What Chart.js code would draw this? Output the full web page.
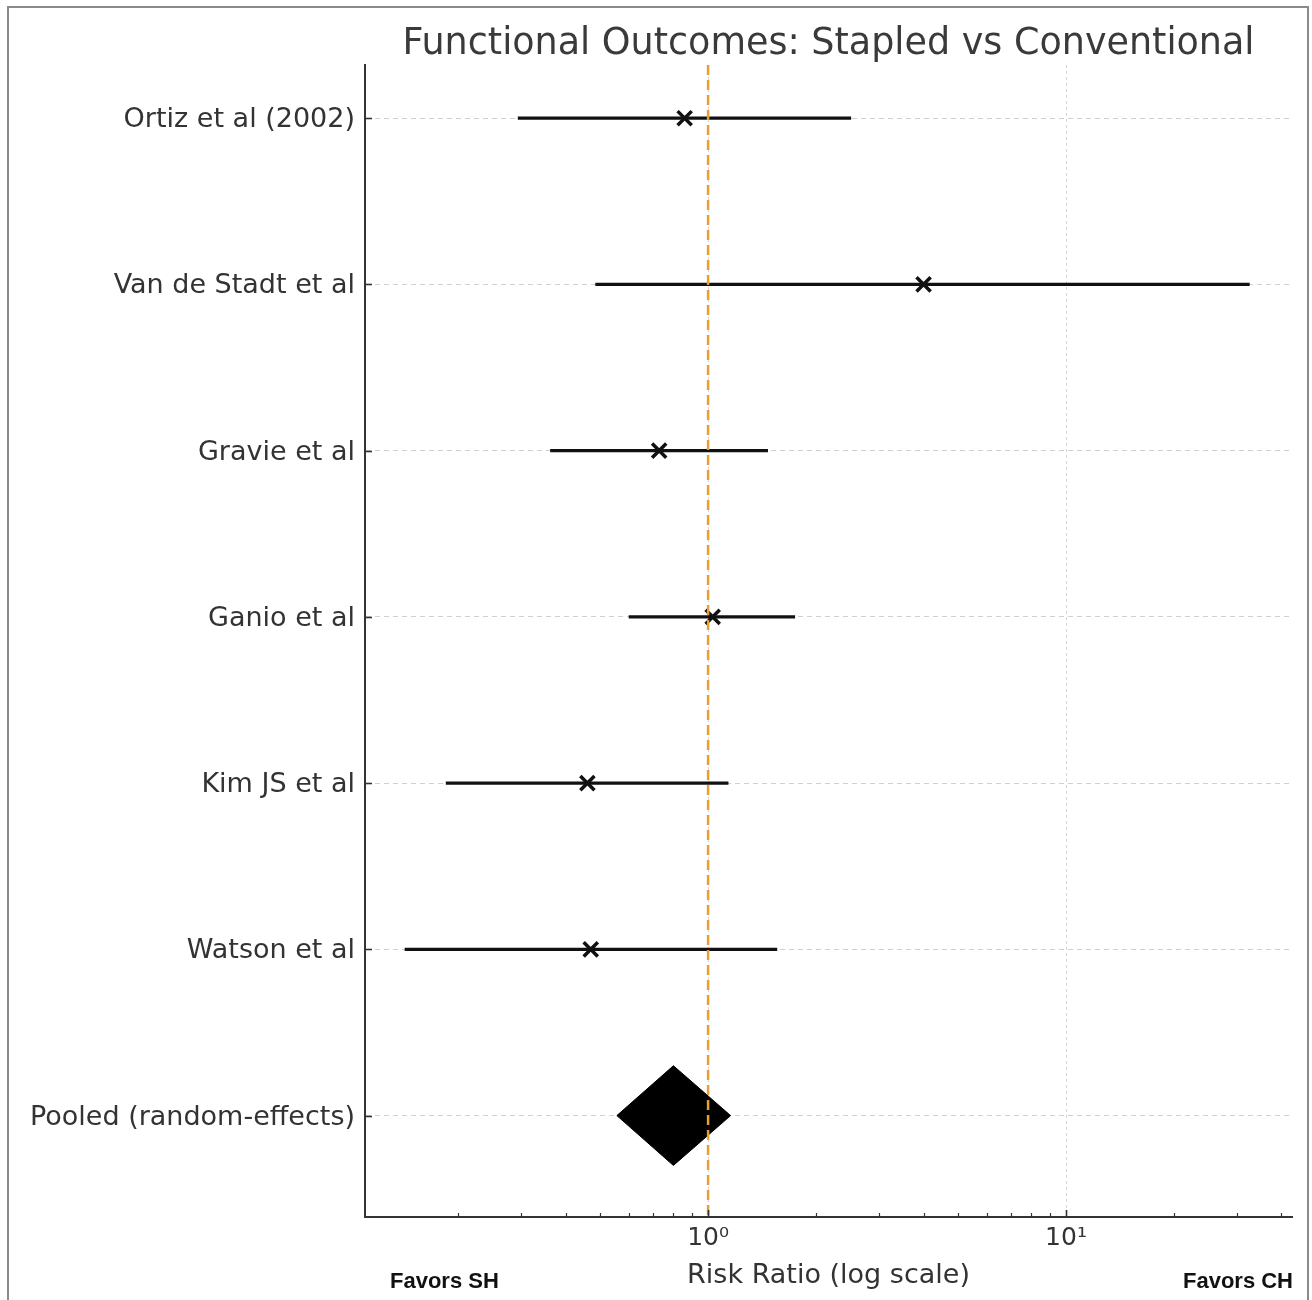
<!DOCTYPE html>
<html>
<head>
<meta charset="utf-8">
<script src="https://cdn.jsdelivr.net/npm/chart.js@4.4.1/dist/chart.umd.min.js"></script>
<style>
    html, body { margin: 0; padding: 0; background: #fff; }
    #wrap { width: 1312px; height: 1300px; position: relative; }
</style>
</head>
<body>
<div id="wrap"><canvas id="forest" width="1312" height="1300"></canvas></div>
<script>
// Study rows (top to bottom), risk ratios and 95% CI
const studies = ['Ortiz et al (2002)', 'Van de Stadt et al', 'Gravie et al', 'Ganio et al', 'Kim JS et al', 'Watson et al', 'Pooled (random-effects)'];
const estimates = [0.86, 4.0, 0.73, 1.03, 0.46, 0.47];
const lowerCI = [0.294, 0.484, 0.362, 0.60, 0.185, 0.142];
const upperCI = [2.51, 32.6, 1.47, 1.75, 1.14, 1.56];
const pooledEstimate = 0.80;
const pooledLower = 0.556;
const pooledUpper = 1.156;

// x axis ticks
const majorTicks = [1, 10];
const minorTicks = [0.2, 0.3, 0.4, 0.5, 0.6, 0.7, 0.8, 0.9, 2, 3, 4, 5, 6, 7, 8, 9, 20, 30, 40];
const tickLabels = { 1: '10\u2070', 10: '10\u00b9' };

const X_MIN = 0.11, X_MAX = 42.8;
const Y_MIN = -0.32, Y_MAX = 6.61;
const DIAMOND_HALF = 0.3;
const pooledRow = studies.length - 1;

const textColor = '#333';
const labelFont = { family: "'DejaVu Sans', sans-serif", size: 27 };

// CI whiskers, one line dataset per study
const ciSets = estimates.map((_, i) => ({
    type: 'line',
    data: [{ x: lowerCI[i], y: i }, { x: upperCI[i], y: i }],
    borderColor: '#111',
    borderWidth: 3.2,
    pointRadius: 0,
    order: 2
}));

const frameAndText = {
    id: 'frameAndText',
    beforeDraw(chart) {
        const c = chart.ctx;
        c.save();
        c.strokeStyle = '#8a8a8a';
        c.lineWidth = 2;
        c.beginPath();
        c.moveTo(8, 1310);
        c.lineTo(8, 7);
        c.lineTo(1308, 7);
        c.lineTo(1308, 1310);
        c.stroke();
        c.restore();
    },
    afterDraw(chart) {
        const c = chart.ctx;
        const area = chart.chartArea;
        const xs = chart.scales.x, ys = chart.scales.y;
        c.save();
        // inward tick marks
        c.strokeStyle = '#333';
        xs.ticks.forEach(t => {
            const px = Math.round(xs.getPixelForValue(t.value)) + 0.5;
            const major = majorTicks.includes(t.value);
            c.lineWidth = major ? 1.6 : 1.2;
            c.beginPath();
            c.moveTo(px, area.bottom);
            c.lineTo(px, area.bottom - (major ? 7 : 4));
            c.stroke();
        });
        c.lineWidth = 1.6;
        ys.ticks.forEach(t => {
            const py = Math.round(ys.getPixelForValue(t.value)) + 0.5;
            c.beginPath();
            c.moveTo(area.left, py);
            c.lineTo(area.left + 7, py);
            c.stroke();
        });
        // title
        c.fillStyle = '#3a3a3a';
        c.font = "36.5px 'DejaVu Sans', sans-serif";
        c.textAlign = 'center';
        c.textBaseline = 'alphabetic';
        c.fillText('Functional Outcomes: Stapled vs Conventional', (area.left + area.right) / 2, 54);
        // direction labels
        c.fillStyle = '#111';
        c.font = "bold 22px 'Liberation Sans', Arial, sans-serif";
        c.textAlign = 'left';
        c.fillText('Favors SH', 390, 1288);
        c.textAlign = 'right';
        c.fillText('Favors CH', 1293, 1288);
        c.restore();
    }
};

new Chart(document.getElementById('forest'), {
    type: 'line',
    data: {
        datasets: [
            {
                type: 'line',
                data: [{ x: 1, y: Y_MIN }, { x: 1, y: Y_MAX }],
                borderColor: '#e5a032',
                borderWidth: 2.5,
                borderDash: [10, 5],
                pointRadius: 0,
                order: 0
            },
            {
                type: 'scatter',
                data: estimates.map((e, i) => ({ x: e, y: i })),
                pointStyle: 'crossRot',
                pointRadius: 10,
                borderWidth: 3.5,
                borderColor: '#111',
                backgroundColor: '#111',
                order: 1
            },
            ...ciSets,
            {
                type: 'line',
                data: [
                    { x: pooledLower, y: pooledRow },
                    { x: pooledEstimate, y: pooledRow - DIAMOND_HALF },
                    { x: pooledUpper, y: pooledRow },
                    { x: pooledEstimate, y: pooledRow + DIAMOND_HALF },
                    { x: pooledLower, y: pooledRow }
                ],
                fill: 'shape',
                backgroundColor: '#000',
                borderColor: '#000',
                borderWidth: 1,
                tension: 0,
                pointRadius: 0,
                order: 2
            }
        ]
    },
    options: {
        responsive: false,
        animation: false,
        events: [],
        layout: { padding: { top: 65, right: 20, bottom: 0, left: 0 } },
        plugins: {
            legend: { display: false },
            tooltip: { enabled: false },
            title: { display: false }
        },
        scales: {
            x: {
                type: 'logarithmic',
                position: 'bottom',
                min: X_MIN,
                max: X_MAX,
                afterBuildTicks: scale => {
                    scale.ticks = [...minorTicks, ...majorTicks].sort((a, b) => a - b).map(v => ({ value: v }));
                },
                afterFit: scale => { scale.height = 83; },
                ticks: {
                    autoSkip: false,
                    maxRotation: 0,
                    padding: 6,
                    color: textColor,
                    font: { family: "'DejaVu Sans', sans-serif", size: 25 },
                    callback: v => tickLabels[v] || ''
                },
                grid: {
                    drawTicks: false,
                    color: ctx => (ctx.tick && majorTicks.includes(ctx.tick.value)) ? '#d6d6d6' : 'rgba(0,0,0,0)',
                    lineWidth: 1
                },
                border: { display: true, color: '#333', width: 2, dash: [3, 3] },
                title: {
                    display: true,
                    text: 'Risk Ratio (log scale)',
                    color: textColor,
                    font: labelFont,
                    padding: { top: 0, bottom: 8 }
                }
            },
            y: {
                type: 'linear',
                reverse: true,
                min: Y_MIN,
                max: Y_MAX,
                afterBuildTicks: scale => {
                    scale.ticks = studies.map((_, i) => ({ value: i }));
                },
                afterFit: scale => { scale.width = 365; },
                ticks: {
                    autoSkip: false,
                    padding: 10,
                    labelOffset: 2,
                    color: textColor,
                    font: labelFont,
                    callback: v => studies[v] ?? ''
                },
                grid: {
                    drawTicks: false,
                    color: '#d0d0d0',
                    lineWidth: 1
                },
                border: { display: true, color: '#333', width: 2, dash: [5, 4] }
            }
        }
    },
    plugins: [frameAndText]
});
</script>
</body>
</html>
